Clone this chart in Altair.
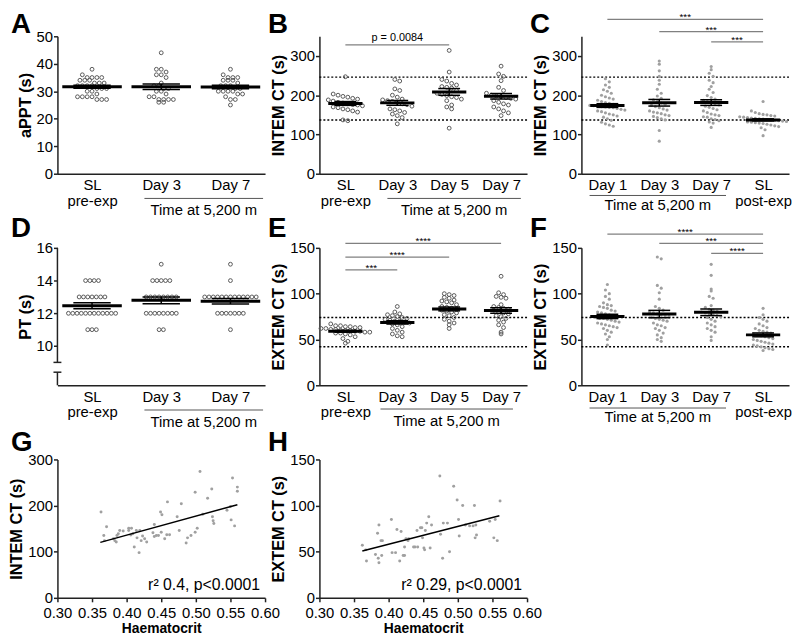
import altair as alt
import pandas as pd

FONT = "Liberation Sans"

# ---------------- data ----------------
A_labels = ["SL|pre-exp", "Day 3", "Day 7"]
A_sl = [38, 36, 35, 35, 35, 35, 34, 34, 34, 33, 33, 33, 32, 32, 32, 32, 31, 31, 31, 30, 30, 29, 28, 28, 28, 28, 27, 27, 27]
A_d3 = [44, 38, 38, 37, 36, 36, 35, 33, 32, 32, 31, 31, 30, 30, 29, 28, 28, 27, 27, 27, 27, 26, 26]
A_d7 = [38, 36, 35, 35, 35, 34, 34, 34, 33, 32, 32, 32, 31, 31, 30, 30, 30, 30, 29, 29, 28, 27, 27, 25]

B_labels = ["SL|pre-exp", "Day 3", "Day 5", "Day 7"]
B_sl = [247, 203, 200, 197, 195, 192, 190, 188, 185, 182, 180, 178, 176, 175, 173, 170, 168, 165, 163, 160, 157, 137, 135]
B_d3 = [240, 236, 216, 212, 200, 195, 190, 188, 186, 184, 182, 178, 176, 172, 165, 163, 160, 156, 152, 148, 143, 127]
B_d5 = [314, 259, 240, 236, 230, 226, 222, 220, 218, 212, 205, 202, 199, 196, 194, 190, 186, 175, 170, 165, 116]
B_d7 = [274, 254, 248, 237, 220, 212, 205, 200, 198, 196, 194, 192, 190, 186, 182, 178, 175, 170, 165, 160, 155, 148]

C_labels = ["Day 1", "Day 3", "Day 7", "SL|post-exp"]
C_d1 = [242, 234, 226, 220, 214, 210, 205, 200, 196, 193, 190, 187, 184, 181, 179, 177, 175, 174, 173, 172, 171, 170,
        169, 168, 166, 164, 162, 160, 158, 155, 152, 150, 147, 144, 140, 136, 131, 127, 124, 121]
C_d3 = [287, 279, 262, 248, 238, 228, 215, 205, 198, 192, 188, 184, 180, 177, 174, 171, 168, 165, 162, 160, 157, 155,
        153, 150, 148, 146, 143, 140, 137, 110, 83]
C_d7 = [273, 265, 256, 248, 238, 232, 222, 215, 207, 199, 194, 190, 187, 184, 181, 178, 175, 172, 169, 166, 163, 160,
        156, 152, 150, 148, 145, 144, 140, 138, 135, 132, 129, 118]
C_sl = [184, 160, 156, 153, 151, 150, 148, 147, 145, 144, 143, 142, 141, 140, 139, 138, 137, 136, 135, 134, 133, 132,
        131, 130, 129, 128, 126, 124, 122, 120, 117, 112, 97]

D_labels = ["SL|pre-exp", "Day 3", "Day 7"]
D_sl = [14, 14, 14, 14, 13, 13, 13, 13, 13, 13, 13, 12, 12, 12, 12, 12, 12, 12, 12, 12, 12, 12, 12, 11, 11, 11]
D_d3 = [15, 14, 14, 14, 14, 14, 13, 13, 13, 13, 13, 13, 13, 13, 12, 12, 12, 12, 12, 12, 12, 12, 11, 11]
D_d7 = [15, 14, 13, 13, 13, 13, 13, 13, 13, 13, 13, 13, 13, 13, 13, 12, 12, 12, 12, 12, 12, 12, 11]

E_labels = ["SL|pre-exp", "Day 3", "Day 5", "Day 7"]
E_sl = [67, 65, 65, 64, 64, 63, 63, 62, 62, 61, 61, 60, 60, 60, 59, 59, 58, 58, 57, 57, 56, 55, 53, 51, 48, 46]
E_d3 = [86, 80, 78, 77, 76, 75, 74, 73, 72, 71, 70, 70, 69, 68, 67, 66, 64, 62, 60, 58, 56, 54, 53]
E_d5 = [100, 99, 98, 96, 95, 93, 92, 91, 90, 88, 86, 85, 84, 83, 82, 81, 80, 79, 77, 76, 74, 72, 70, 68, 66, 62]
E_d7 = [119, 101, 99, 97, 96, 95, 88, 86, 85, 84, 83, 82, 80, 79, 78, 76, 75, 73, 71, 69, 66, 63, 58, 56]

F_labels = ["Day 1", "Day 3", "Day 7", "SL|post-exp"]
F_d1 = [110, 104, 100, 97, 94, 90, 88, 87, 86, 85, 84, 82, 81, 80, 79, 78, 77, 76, 75, 74, 73, 73, 72, 71, 70, 69, 68,
        67, 66, 65, 64, 63, 62, 60, 58, 56, 53, 50, 44]
F_d3 = [140, 138, 109, 106, 101, 94, 86, 84, 82, 80, 79, 78, 77, 76, 75, 74, 73, 72, 71, 70, 68, 66, 65, 63, 62, 60, 57,
        55, 52, 50, 48]
F_d7 = [132, 120, 105, 103, 97, 95, 87, 85, 83, 82, 81, 80, 79, 78, 77, 76, 75, 74, 72, 70, 68, 66, 64, 62, 60, 58, 53, 49]
F_sl = [84, 77, 74, 72, 70, 67, 65, 63, 62, 60, 59, 58, 57, 56, 55, 54, 53, 52, 51, 50, 49, 48, 47, 46, 45, 44, 43, 42,
        41, 40, 39, 38]

INTEM_ref = [137, 246]
EXTEM_ref = [42, 74]

B_sig_from, B_sig_to, B_sig_y, B_sig_txt = [0], [2], [328], ["p = 0.0084"]
C_sig_from, C_sig_to, C_sig_y, C_sig_txt = [0, 1, 2], [3, 3, 3], [393, 362, 336], ["***", "***", "***"]
E_sig_from, E_sig_to, E_sig_y, E_sig_txt = [0, 0, 0], [3, 2, 1], [155, 140, 126], ["****", "****", "***"]
F_sig_from, F_sig_to, F_sig_y, F_sig_txt = [0, 1, 2], [3, 3, 3], [165, 155, 144], ["****", "***", "****"]

G_hct = [0.363, 0.367, 0.368, 0.371, 0.381, 0.383, 0.386, 0.388, 0.390, 0.403, 0.407, 0.406, 0.409, 0.411, 0.414,
         0.418, 0.419, 0.421, 0.423, 0.426, 0.429, 0.438, 0.440, 0.443, 0.446, 0.449, 0.451, 0.450, 0.455, 0.459,
         0.458, 0.462, 0.473, 0.476, 0.479, 0.486, 0.488, 0.493, 0.499, 0.499, 0.502, 0.506, 0.510, 0.517, 0.523,
         0.524, 0.525, 0.526, 0.545, 0.550, 0.551, 0.553, 0.556, 0.560, 0.560, 0.403, 0.385, 0.395, 0.415, 0.440]
G_intem = [186, 135, 124, 154, 128, 124, 135, 139, 146, 151, 151, 136, 139, 110, 146,
           98, 146, 124, 134, 128, 121, 141, 159, 135, 135, 186, 180, 142, 128, 208,
           137, 137, 176, 146, 204, 119, 130, 135, 229, 142, 151, 274, 181, 216, 236,
           176, 167, 161, 190, 198, 169, 260, 156, 240, 231, 146, 121, 145, 130, 133]

H_hct = [0.362, 0.367, 0.368, 0.381, 0.384, 0.386, 0.385, 0.386, 0.389, 0.391, 0.390, 0.404, 0.405, 0.410, 0.412,
         0.416, 0.418, 0.421, 0.423, 0.423, 0.425, 0.428, 0.429, 0.436, 0.438, 0.442, 0.441, 0.446, 0.448, 0.449,
         0.451, 0.452, 0.453, 0.455, 0.458, 0.460, 0.462, 0.474, 0.475, 0.478, 0.479, 0.485, 0.488, 0.494, 0.499,
         0.501, 0.502, 0.507, 0.511, 0.517, 0.522, 0.524, 0.526, 0.525, 0.527, 0.546, 0.552, 0.554, 0.557, 0.561]
H_extem = [57, 52, 40, 47, 70, 79, 43, 38, 62, 62, 46, 85, 49, 49, 74,
           40, 72, 46, 55, 46, 64, 62, 64, 55, 55, 55, 73, 76, 76, 65,
           54, 52, 73, 81, 88, 54, 79, 132, 69, 43, 81, 81, 50, 121, 106,
           85, 67, 100, 79, 78, 78, 100, 79, 65, 68, 83, 65, 85, 62, 105]

G_text = "r\u00b2 0.4, p<0.0001"
H_text = "r\u00b2 0.29, p<0.0001"
HCT_TICKS = [0.30, 0.35, 0.40, 0.45, 0.50, 0.55, 0.60]
TIME_LABEL = "Time at 5,200 m"

# ---------------- helpers ----------------
W = 210
AX = "#222222"


def long_df(series):
    rows = []
    for gi, vals in enumerate(series):
        for v in vals:
            rows.append({"g": gi, "v": v})
    return pd.DataFrame(rows)


def y_axis(values, title, show_domain=True):
    return alt.Axis(values=values, title=title, titleFont=FONT, titleFontSize=16.5, titleFontWeight="bold",
                    titleColor="black", titlePadding=3, labelFont=FONT, labelFontSize=15, labelColor="black",
                    labelPadding=1, tickSize=4, tickWidth=1.5, tickColor=AX, domain=show_domain,
                    domainColor=AX, domainWidth=1.5, grid=False)


def letter_layer(letter, lx, ly):
    return alt.Chart(pd.DataFrame({"t": [letter]})).mark_text(
        align="left", baseline="alphabetic", font=FONT, fontSize=28, fontWeight="bold", color="black"
    ).encode(x=alt.value(lx), y=alt.value(ly), text="t:N")


def swarm_panel(letter, lx, ly, labels, series, ydom, yticks, ytitle, step, dx, hm, hc, open_pts,
                refs, sig, span, span_off, line_dy, text_dy, H, broken=False):
    n = len(labels)
    df = long_df(series)
    xsc = alt.Scale(domain=[-0.5, n - 0.5], nice=False, zero=False)
    ysc = alt.Scale(domain=ydom, nice=False, zero=False)
    arr = "[" + ",".join("'" + l + "'" for l in labels) + "]"
    xaxis = alt.Axis(values=list(range(n)), labelExpr="split(" + arr + "[datum.value], '|')", title=None,
                     ticks=False, labelFont=FONT, labelFontSize=15, labelColor="black", labelPadding=4,
                     labelLineHeight=16, labelOverlap=False, labelFlush=False, labelBaseline="top",
                     domainColor=AX, domainWidth=1.5, grid=False)
    yaxis = y_axis(yticks, ytitle, not broken)

    def X(f):
        return alt.X(f, type="quantitative", scale=xsc, axis=xaxis)

    def Y(f):
        return alt.Y(f, type="quantitative", scale=ysc, axis=yaxis)

    layers = []
    if refs:
        layers.append(alt.Chart(pd.DataFrame({"r": refs})).mark_rule(
            color="black", strokeWidth=1.5, strokeDash=[2, 2]).encode(y=Y("r")))

    base = (alt.Chart(df)
            .transform_calculate(b="round(datum.v / %s)" % step)
            .transform_window(rk="row_number()", groupby=["g", "b"])
            .transform_joinaggregate(cnt="count()", groupby=["g", "b"])
            .transform_calculate(xp="datum.g + (datum.rk - (datum.cnt + 1) / 2) * %s" % dx))
    if open_pts:
        pm = base.mark_point(shape="circle", filled=False, size=15, strokeWidth=1, color="#595959", opacity=1)
    else:
        pm = base.mark_circle(size=10, color="#a0a0a0", opacity=1)
    layers.append(pm.encode(x=X("xp"), y=Y("v")))

    st = (alt.Chart(df)
          .transform_aggregate(m="mean(v)", se="stderr(v)", groupby=["g"])
          .transform_calculate(lo="datum.m - datum.se", hi="datum.m + datum.se",
                               ml="datum.g - %s" % hm, mr="datum.g + %s" % hm,
                               cl="datum.g - %s" % hc, cr="datum.g + %s" % hc))
    layers.append(st.mark_rule(color="black", strokeWidth=1.5).encode(x=X("g"), y=Y("lo"), y2="hi:Q"))
    layers.append(st.mark_rule(color="black", strokeWidth=1.5).encode(x=X("cl"), x2="cr:Q", y=Y("lo")))
    layers.append(st.mark_rule(color="black", strokeWidth=1.5).encode(x=X("cl"), x2="cr:Q", y=Y("hi")))
    layers.append(st.mark_rule(color="black", strokeWidth=3).encode(x=X("ml"), x2="mr:Q", y=Y("m")))

    if sig:
        s_from, s_to, s_y, s_txt = sig
        sdf = pd.DataFrame({"g1": s_from, "g2": s_to, "y": s_y, "t": s_txt})
        sb = alt.Chart(sdf)
        layers.append(sb.mark_rule(color="#808080", strokeWidth=1.3).encode(x=X("g1"), x2="g2:Q", y=Y("y")))
        stars = s_txt[0].startswith("*")
        layers.append(sb.transform_calculate(xm="(datum.g1 + datum.g2) / 2").mark_text(
            font=FONT, fontSize=10 if stars else 11, color="black", baseline="alphabetic",
            dy=1 if stars else -4
        ).encode(x=X("xm"), y=Y("y"), text="t:N"))

    tdf = pd.DataFrame({"g1": [span[0]], "g2": [span[1]], "t": [TIME_LABEL]})
    layers.append(alt.Chart(tdf).mark_rule(color="#555555", strokeWidth=1, xOffset=span_off[0],
                                           x2Offset=span_off[1]).encode(
        x=X("g1"), x2="g2:Q", y=alt.value(H + line_dy)))
    layers.append(alt.Chart(tdf).transform_calculate(xm="(datum.g1 + datum.g2) / 2").mark_text(
        font=FONT, fontSize=15, color="black", baseline="middle", dx=(span_off[0] + span_off[1]) / 2
    ).encode(x=X("xm"), y=alt.value(H + text_dy), text="t:N"))

    if broken:
        seg = pd.DataFrame({"y1": [9.0, ydom[0]], "y2": [ydom[1], 8.4]})
        layers.append(alt.Chart(seg).mark_rule(color=AX, strokeWidth=1.5).encode(
            x=alt.value(0), y=Y("y1"), y2="y2:Q"))
        caps = pd.DataFrame({"y": [9.0, 8.4]})
        layers.append(alt.Chart(caps).mark_rule(color=AX, strokeWidth=1.5).encode(
            x=alt.value(-4), x2=alt.value(4), y=Y("y")))

    layers.append(letter_layer(letter, lx, ly))
    return alt.layer(*layers).properties(width=W, height=H)


def scatter_panel(letter, lx, ly, xs, ys, ydom, yticks, ytitle, rtext, H):
    df = pd.DataFrame({"x": xs, "y": ys})
    xsc = alt.Scale(domain=[0.3, 0.6], nice=False, zero=False)
    ysc = alt.Scale(domain=ydom, nice=False, zero=False)
    xaxis = alt.Axis(values=HCT_TICKS, format=".2f", title="Haematocrit", titleFont=FONT, titleFontSize=14,
                     titleFontWeight="bold", titleColor="black", titlePadding=1, labelFont=FONT,
                     labelFontSize=15, labelColor="black", labelPadding=4, labelOverlap=False,
                     labelFlush=False, tickSize=4, tickWidth=1.5, tickColor=AX, domainColor=AX,
                     domainWidth=1.5, grid=False)
    yaxis = y_axis(yticks, ytitle)
    enc = dict(x=alt.X("x:Q", scale=xsc, axis=xaxis), y=alt.Y("y:Q", scale=ysc, axis=yaxis))
    base = alt.Chart(df)
    pts = base.mark_circle(size=9, color="#a0a0a0", opacity=1).encode(**enc)
    reg = base.transform_regression("x", "y", extent=[0.362, 0.56]).mark_line(
        color="black", strokeWidth=1.5).encode(**enc)
    txt = alt.Chart(pd.DataFrame({"t": [rtext]})).mark_text(
        align="right", baseline="alphabetic", font=FONT, fontSize=16, color="black"
    ).encode(x=alt.value(W - 5), y=alt.value(H - 8), text="t:N")
    return alt.layer(pts, reg, txt, letter_layer(letter, lx, ly)).properties(width=W, height=H)


H1 = 139
H3 = 140

pA = swarm_panel("A", -47, -3, A_labels, [A_sl, A_d3, A_d7], [0, 50], [0, 10, 20, 30, 40, 50], "aPPT (s)",
                 2, 0.07, 0.43, 0.27, True, None, None, (1, 2), (-17, 33), 25, 37, H1)
pB = swarm_panel("B", -52, -3, B_labels, [B_sl, B_d3, B_d5, B_d7], [0, 350], [0, 100, 200, 300], "INTEM CT (s)",
                 18, 0.094, 0.33, 0.21, True, INTEM_ref, (B_sig_from, B_sig_to, B_sig_y, B_sig_txt),
                 (1, 3), (-10, 20), 25, 37, H1)
pC = swarm_panel("C", -52, -3, C_labels, [C_d1, C_d3, C_d7, C_sl], [0, 350], [0, 100, 200, 300], "INTEM CT (s)",
                 14, 0.075, 0.33, 0.21, False, INTEM_ref, (C_sig_from, C_sig_to, C_sig_y, C_sig_txt),
                 (0, 2), (-18, 15), 22, 32, H1)
pD = swarm_panel("D", -47, -11, D_labels, [D_sl, D_d3, D_d7], [7.6, 16], [10, 12, 14, 16], "PT (s)",
                 1, 0.062, 0.43, 0.27, True, None, None, (1, 2), (-17, 33), 25, 37, H1, broken=True)
pE = swarm_panel("E", -52, -11, E_labels, [E_sl, E_d3, E_d5, E_d7], [0, 150], [0, 50, 100, 150], "EXTEM CT (s)",
                 5, 0.094, 0.33, 0.21, True, EXTEM_ref, (E_sig_from, E_sig_to, E_sig_y, E_sig_txt),
                 (1, 3), (-17, 12), 24, 36, H1)
pF = swarm_panel("F", -52, -11, F_labels, [F_d1, F_d3, F_d7, F_sl], [0, 150], [0, 50, 100, 150], "EXTEM CT (s)",
                 6, 0.075, 0.33, 0.21, False, EXTEM_ref, (F_sig_from, F_sig_to, F_sig_y, F_sig_txt),
                 (0, 2), (-18, 15), 23, 32, H1)
pG = scatter_panel("G", -47, -9, G_hct, G_intem, [0, 300], [0, 100, 200, 300], "INTEM CT (s)", G_text, H3)
pH = scatter_panel("H", -52, -9, H_hct, H_extem, [0, 150], [0, 50, 100, 150], "EXTEM CT (s)", H_text, H3)

chart = alt.concat(pA, pB, pC, pD, pE, pF, pG, pH, columns=3,
                   spacing={"row": 75, "column": 55}, bounds="flush").properties(
    padding=0, background="white"
).configure(font=FONT).configure_view(stroke=None)

chart.save("out.html", embed_options={"renderer": "svg", "actions": False})
